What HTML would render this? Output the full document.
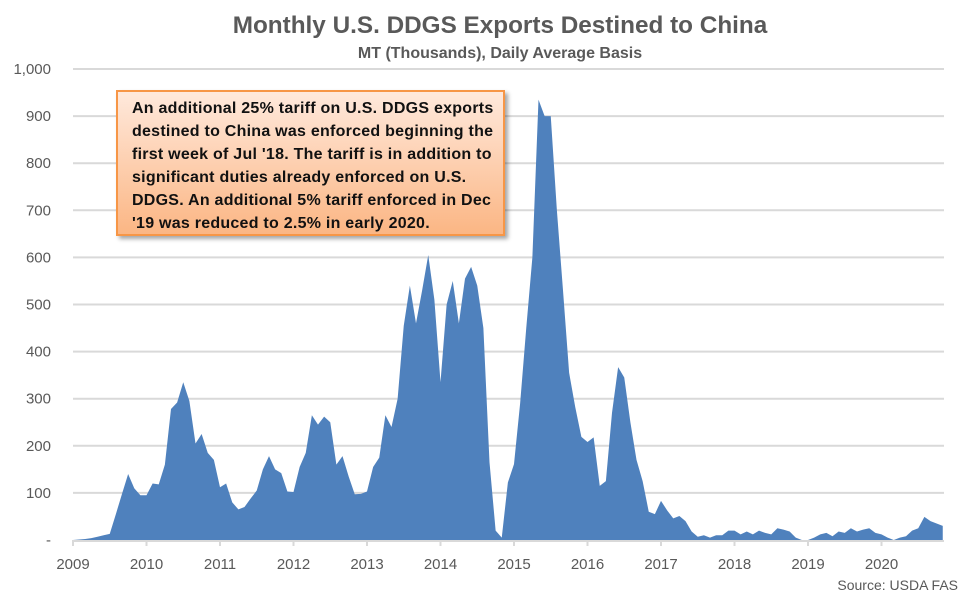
<!DOCTYPE html>
<html><head><meta charset="utf-8"><style>
body{margin:0;background:#fff;font-family:"Liberation Sans",sans-serif;}
#wrap{position:relative;width:976px;height:601px;overflow:hidden;}
.box{position:absolute;left:116px;top:90px;width:389px;height:146px;border:2px solid #f79646;box-sizing:border-box;background:linear-gradient(#ffe9dc,#fbb684);box-shadow:3px 3px 4px rgba(0,0,0,.35);padding:5px 0 0 14px;font-weight:bold;font-size:16px;letter-spacing:0.25px;line-height:23px;color:#111;white-space:nowrap;}
</style></head><body>
<div id="wrap">
<svg id="chart" width="976" height="601">
<text x="500" y="33" text-anchor="middle" font-size="24.3" font-weight="bold" fill="#595959">Monthly U.S. DDGS Exports Destined to China</text>
<text x="500" y="58" text-anchor="middle" font-size="16" font-weight="bold" fill="#595959">MT (Thousands), Daily Average Basis</text>
<g id="grid"></g><g id="area"></g><g id="axes"></g>
<text x="958" y="590" text-anchor="end" font-size="14" fill="#595959">Source: USDA FAS</text>
</svg>
<div class="box">An additional 25% tariff on U.S. DDGS exports<br>destined to China was enforced beginning the<br>first week of Jul '18. The tariff is in addition to<br>significant duties already enforced on U.S.<br>DDGS. An additional 5% tariff enforced in Dec<br>'19 was reduced to 2.5% in early 2020.</div>
</div>
<script>
const years=["2009","2010","2011","2012","2013","2014","2015","2016","2017","2018","2019","2020"];
const yTicks=[0,100,200,300,400,500,600,700,800,900,1000];
const yTickLabels=["-","100","200","300","400","500","600","700","800","900","1,000"];
const values=[
0,1,2,4,7,10,13,55,98,140,110,95,
95,120,118,160,278,292,335,295,205,225,185,170,
112,120,80,65,70,88,105,150,178,150,142,103,
102,155,185,265,245,262,250,160,178,135,97,98,
103,155,175,265,240,300,455,540,460,530,605,510,
335,500,550,460,555,580,540,450,165,20,5,122,
161,290,450,600,935,900,900,700,530,355,282,219,
208,218,115,125,270,367,345,250,170,125,60,55,
83,63,46,51,40,18,7,10,5,10,10,20,
20,12,18,12,20,15,12,25,22,18,5,0,
0,5,12,15,8,18,15,25,18,22,25,15,
12,5,0,5,8,20,25,49,40,35,30];
const NS="http://www.w3.org/2000/svg";
const x0=73,pxMonth=73.5/12,y0=540,pxUnit=471/1000,xEnd=944;
const X=i=>x0+i*pxMonth, Y=v=>y0-v*pxUnit;
function mk(t,a,p){const e=document.createElementNS(NS,t);for(const k in a)e.setAttribute(k,a[k]);document.getElementById(p).appendChild(e);return e;}
yTicks.forEach((v,k)=>{
 if(v>0){const g=mk('line',{x1:x0,x2:xEnd,y1:Y(v),y2:Y(v),stroke:'#d9d9d9','stroke-width':2},'grid');
 
 }
 const t=mk('text',{x:51,y:Y(v)+5,'text-anchor':'end','font-size':15,fill:'#595959'},'axes');
 t.textContent=yTickLabels[k];
 
 
});
let d="M"+X(0)+","+y0;
values.forEach((v,i)=>{d+=" L"+X(i).toFixed(2)+","+Y(v).toFixed(2);});
d+=" L"+X(values.length-1).toFixed(2)+","+y0+" Z";
const a=mk('path',{d:d,fill:'#4f81bd'},'area');


const ax=mk('line',{x1:x0,x2:xEnd,y1:y0+1,y2:y0+1,stroke:'#d9d9d9','stroke-width':2},'axes');


years.forEach((y,k)=>{
 const xx=X(k*12);
 const tk=mk('line',{x1:xx,x2:xx,y1:y0,y2:y0+6,stroke:'#d9d9d9','stroke-width':2},'axes');
 
 
 const t=mk('text',{x:xx,y:569,'text-anchor':'middle','font-size':15,fill:'#595959'},'axes');
 t.textContent=y;
 
 
});
</script>
</body></html>
